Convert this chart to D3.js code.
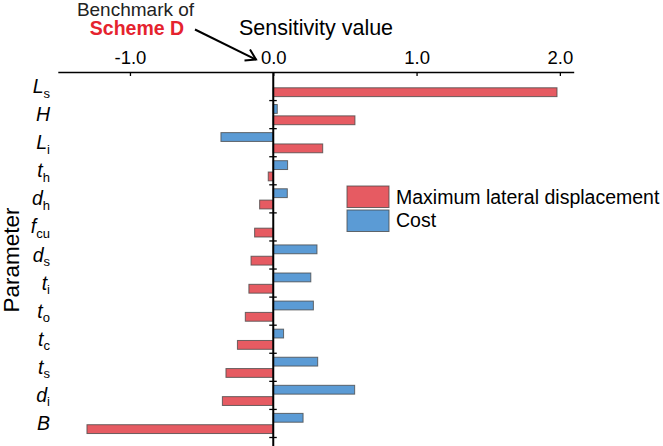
<!DOCTYPE html>
<html>
<head>
<meta charset="utf-8">
<script src="https://cdn.jsdelivr.net/npm/d3@7"></script>
<style>
  body { margin: 0; background: #fff; }
  svg { display: block; font-family: "Liberation Sans", Arial, sans-serif; }
</style>
</head>
<body>
<div id="chart"></div>
<script>
// parameters, top to bottom: [main letter, subscript]
const params = [
  ["L", "s"], ["H", ""], ["L", "i"], ["t", "h"], ["d", "h"], ["f", "cu"], ["d", "s"],
  ["t", "i"], ["t", "o"], ["t", "c"], ["t", "s"], ["d", "i"], ["B", ""]
]
const seriesNames = ["Maximum lateral displacement", "Cost"]
const displacement = [1.98, 0.57, 0.345, -0.035, -0.095, -0.13, -0.155, -0.17, -0.195, -0.25, -0.33, -0.355, -1.30]
const cost = [null, 0.028, -0.365, 0.10, 0.098, null, 0.305, 0.262, 0.28, 0.072, 0.31, 0.568, 0.208]
const xTicks = [-1, 0, 1, 2]

const W = 663, H = 446
const RED = "#e65b62", BLUE = "#5b9bd5"

const svg = d3.select("#chart").append("svg")
  .attr("width", W).attr("height", H)

const keys = params.map(p => p[0] + p[1])

const x = d3.scaleLinear().domain([-1.5, 2.1]).range([58.3, 574.2])
const y = d3.scaleBand().domain(keys).range([72.5, 437.5])
const inner = d3.scaleBand().domain(["cost", "disp"]).range([0, y.bandwidth()])
  .paddingInner(0.22).paddingOuter(0.35)

// bars
const rows = keys.map((k, i) => ({ key: k, disp: displacement[i], cost: cost[i] }))
const series = [
  { id: "cost", fill: BLUE },
  { id: "disp", fill: RED }
]
series.forEach(s => {
  svg.append("g").selectAll("rect")
    .data(rows.filter(d => d[s.id] !== null))
    .join("rect")
    .attr("x", d => x(Math.min(0, d[s.id])))
    .attr("width", d => Math.abs(x(d[s.id]) - x(0)))
    .attr("y", d => y(d.key) + inner(s.id))
    .attr("height", inner.bandwidth())
    .attr("fill", s.fill)
    .attr("stroke", "#4a4a4a")
    .attr("stroke-opacity", 0.8)
    .attr("stroke-width", 1)
})

// x axis on top, ticks pointing down
const xAxis = svg.append("g")
  .attr("transform", `translate(0, ${y.range()[0]})`)
  .call(d3.axisTop(x).tickValues(xTicks).tickSize(-3.5).tickPadding(9)
    .tickFormat(d3.format(".1f")))
xAxis.select(".domain").attr("d", `M${x.range()[0]},0H${x.range()[1]}`)
  .attr("stroke-width", 1.6)
xAxis.selectAll(".tick line").attr("stroke-width", 1.3)
xAxis.selectAll(".tick text")
  .attr("font-size", 18.5).attr("font-family", "Liberation Sans, Arial, sans-serif")
  .text(d => d3.format(".1f")(d).replace("−", "-"))

// y axis at zero with ticks on band boundaries
svg.append("line")
  .attr("x1", x(0)).attr("x2", x(0))
  .attr("y1", y.range()[0]).attr("y2", H)
  .attr("stroke", "#000").attr("stroke-width", 2)
svg.append("g").selectAll("line")
  .data(keys)
  .join("line")
  .attr("x1", x(0) - 4).attr("x2", x(0) + 3.5)
  .attr("y1", d => y(d) + y.bandwidth())
  .attr("y2", d => y(d) + y.bandwidth())
  .attr("stroke", "#000").attr("stroke-width", 1.3)

// category labels
const labels = svg.append("g").selectAll("text")
  .data(params)
  .join("text")
  .attr("x", 50)
  .attr("y", (d, i) => y(keys[i]) + y.bandwidth() / 2 + 6.5)
  .attr("text-anchor", "end")
  .attr("font-size", 19.5)
labels.append("tspan")
  .attr("font-style", "italic")
  .text(d => d[0])
labels.append("tspan")
  .attr("font-size", 13)
  .attr("dy", 4.5)
  .text(d => d[1])

// titles
svg.append("text")
  .attr("x", 316).attr("y", 35)
  .attr("text-anchor", "middle")
  .attr("font-size", 21.5)
  .text("Sensitivity value")

svg.append("text")
  .attr("transform", "translate(19, 260) rotate(-90)")
  .attr("text-anchor", "middle")
  .attr("font-size", 22.5)
  .text("Parameter")

// benchmark annotation
svg.append("text")
  .attr("x", 135.5).attr("y", 16)
  .attr("text-anchor", "middle")
  .attr("font-size", 19)
  .attr("fill", "#222")
  .text("Benchmark of")
svg.append("text")
  .attr("x", 137).attr("y", 35)
  .attr("text-anchor", "middle")
  .attr("font-size", 19.5)
  .attr("font-weight", "bold")
  .attr("fill", "#e5232e")
  .text("Scheme D")

svg.append("line")
  .attr("x1", 195).attr("y1", 29.5)
  .attr("x2", 256).attr("y2", 59.5)
  .attr("stroke", "#000").attr("stroke-width", 2)
svg.append("path")
  .attr("d", "M244.5,60.5L256,59.5L250,49.5")
  .attr("fill", "none").attr("stroke", "#000").attr("stroke-width", 2)

// legend
const legend = svg.append("g").attr("transform", "translate(347, 186)")
const legendColors = [RED, BLUE]
legend.selectAll("rect")
  .data(seriesNames)
  .join("rect")
  .attr("x", 0).attr("y", (d, i) => i * 24)
  .attr("width", 42).attr("height", 21.5)
  .attr("fill", (d, i) => legendColors[i])
  .attr("stroke", "#4a4a4a").attr("stroke-opacity", 0.8)
legend.selectAll("text")
  .data(seriesNames)
  .join("text")
  .attr("x", 49).attr("y", (d, i) => 17.5 + i * 23.5)
  .attr("font-size", 19.5)
  .text(d => d)
</script>
</body>
</html>
